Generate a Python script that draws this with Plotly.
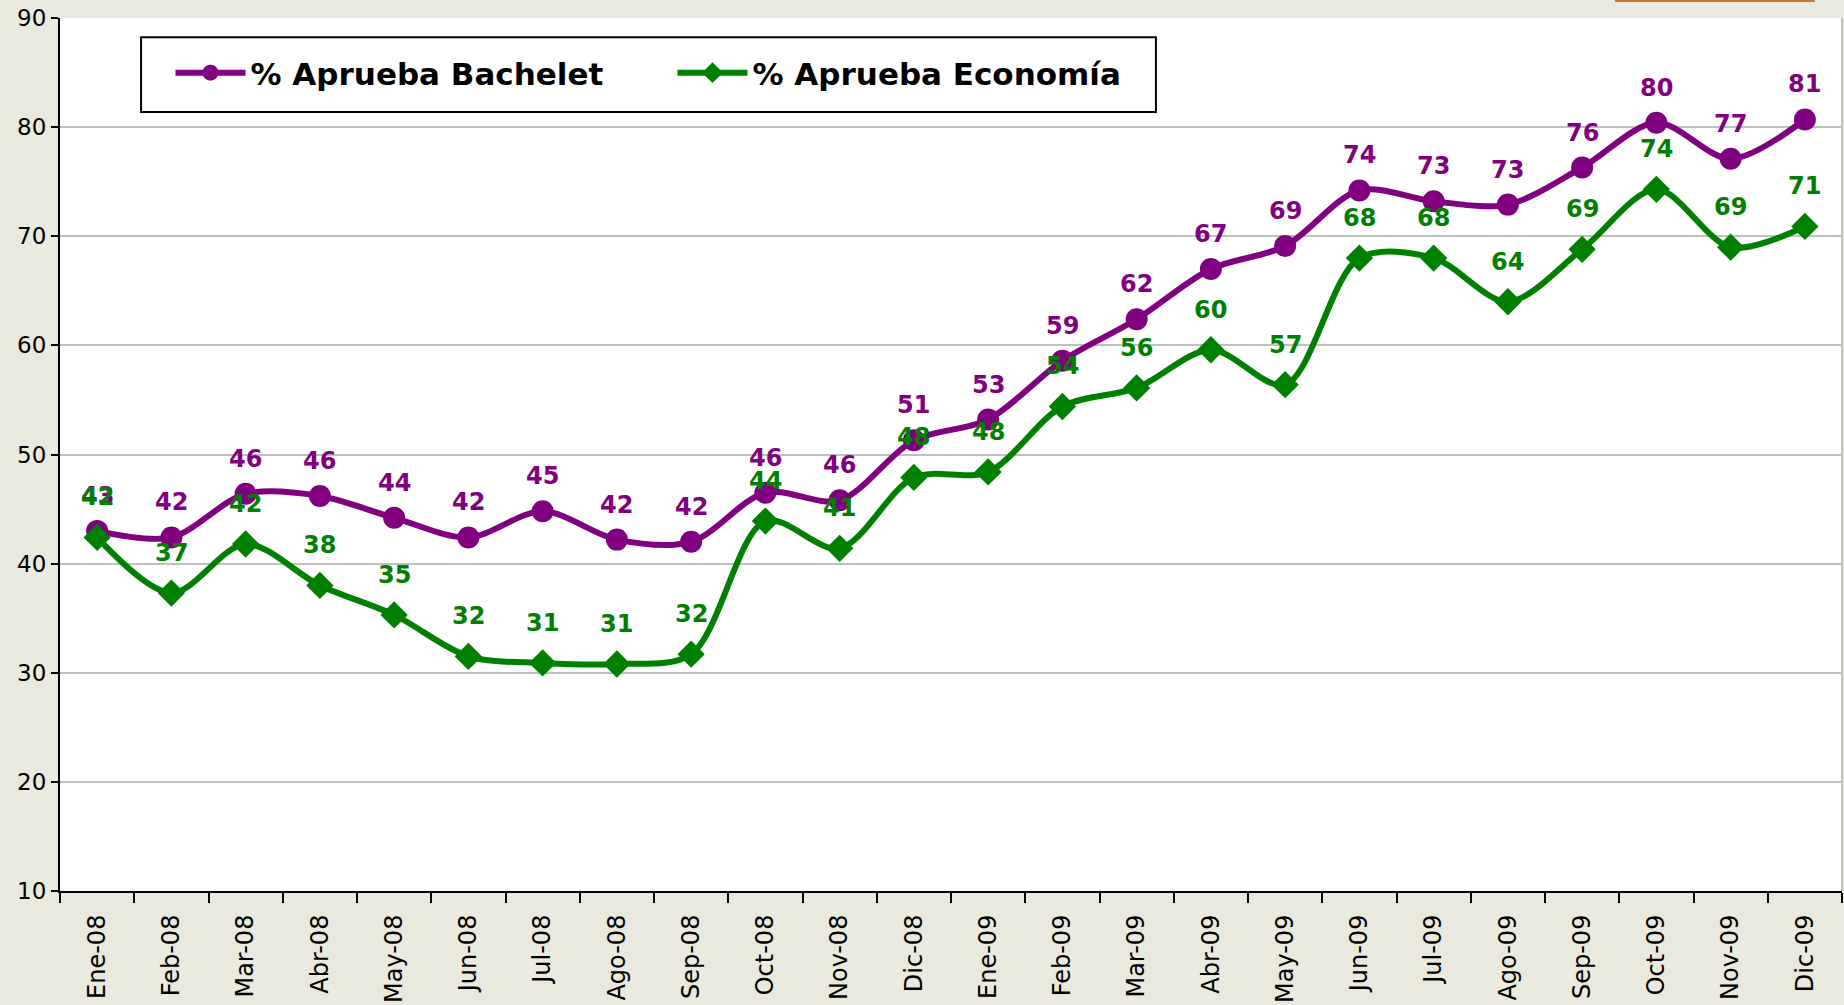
import plotly.graph_objects as go

months = ["Ene-08", "Feb-08", "Mar-08", "Abr-08", "May-08", "Jun-08", "Jul-08", "Ago-08",
          "Sep-08", "Oct-08", "Nov-08", "Dic-08", "Ene-09", "Feb-09", "Mar-09", "Abr-09",
          "May-09", "Jun-09", "Jul-09", "Ago-09", "Sep-09", "Oct-09", "Nov-09", "Dic-09"]

bachelet = [43.0, 42.4, 46.4, 46.2, 44.2, 42.4, 44.8, 42.2, 42.0, 46.5, 45.8, 51.3,
            53.2, 58.6, 62.4, 67.0, 69.1, 74.2, 73.2, 72.9, 76.3, 80.4, 77.1, 80.7]
bachelet_labels = ["43", "42", "46", "46", "44", "42", "45", "42", "42", "46", "46", "51",
                   "53", "59", "62", "67", "69", "74", "73", "73", "76", "80", "77", "81"]

economia = [42.4, 37.3, 41.8, 38.0, 35.3, 31.5, 30.9, 30.8, 31.7, 43.9, 41.4, 47.9,
            48.4, 54.4, 56.1, 59.6, 56.4, 68.0, 68.0, 64.0, 68.8, 74.3, 69.0, 70.9]
economia_labels = ["42", "37", "42", "38", "35", "32", "31", "31", "32", "44", "41", "48",
                   "48", "54", "56", "60", "57", "68", "68", "64", "69", "74", "69", "71"]

PURPLE = "#800080"
GREEN = "#008000"
BG = "#EAE9DE"
FONT = "DejaVu Sans"

fig = go.Figure()
fig.add_trace(go.Scatter(
    x=months, y=bachelet, name="% Aprueba Bachelet", mode="lines+markers",
    line=dict(color=PURPLE, width=6, shape="spline", smoothing=0.9),
    marker=dict(symbol="circle", size=22, color=PURPLE),
    hoverinfo="skip"))
fig.add_trace(go.Scatter(
    x=months, y=economia, name="% Aprueba Economía", mode="lines+markers",
    line=dict(color=GREEN, width=6, shape="spline", smoothing=0.9),
    marker=dict(symbol="diamond", size=21, color=GREEN),
    hoverinfo="skip"))

annotations = []
for m, v, t in zip(months, bachelet, bachelet_labels):
    annotations.append(dict(x=m, y=v, text=t, showarrow=False, yshift=35,
                            font=dict(family=FONT, size=24, color=PURPLE, weight="bold")))
for m, v, t in zip(months, economia, economia_labels):
    annotations.append(dict(x=m, y=v, text=t, showarrow=False, yshift=40,
                            font=dict(family=FONT, size=24, color=GREEN, weight="bold")))

fig.update_layout(
    width=1844, height=1005,
    margin=dict(l=60, r=2, t=18, b=114, autoexpand=False),
    paper_bgcolor=BG,
    plot_bgcolor="white",
    font=dict(family=FONT, color="black"),
    showlegend=True,
    legend=dict(
        orientation="h", x=0.062, y=0.937, xanchor="left", yanchor="middle",
        bgcolor="rgba(0,0,0,0)", borderwidth=0,
        font=dict(family=FONT, size=31, color="black", weight="bold"),
        itemwidth=70,
        entrywidth=417, entrywidthmode="pixels",
    ),
    annotations=annotations,
    shapes=[
        dict(type="line", xref="paper", yref="paper", x0=1, x1=1, y0=0, y1=1,
             line=dict(color="#C0C0C0", width=2)),
        dict(type="rect", xref="paper", yref="paper", x0=0.0455, x1=0.615,
             y0=0.8923, y1=0.978, fillcolor="white", line=dict(color="black", width=2),
             layer="above"),
        dict(type="rect", xref="paper", yref="paper", x0=0.8726, x1=0.9848,
             y0=1.0183, y1=1.0215, fillcolor="#C8782D", line=dict(width=0)),
    ],
)

fig.update_xaxes(
    type="category", range=[-0.5, 23.5], automargin=False,
    showgrid=False, showline=True, linecolor="black", linewidth=2,
    ticks="outside", tickson="boundaries", ticklen=10, tickwidth=2, tickcolor="black",
    tickangle=-90, ticklabelstandoff=12,
    tickfont=dict(family=FONT, size=24, color="black"),
)
fig.update_yaxes(
    range=[10, 90], dtick=10, automargin=False,
    showgrid=True, gridcolor="#C0C0C0", gridwidth=2,
    showline=True, linecolor="black", linewidth=2, zeroline=False,
    ticks="outside", ticklen=7, tickwidth=2, tickcolor="black",
    tickfont=dict(family=FONT, size=23, color="black"),
)

fig.write_html(
    "out.html",
    config={"displayModeBar": False},
    post_script="document.body.style.margin='0';document.body.style.overflow='hidden';"
                "document.body.style.background='" + BG + "';",
)
